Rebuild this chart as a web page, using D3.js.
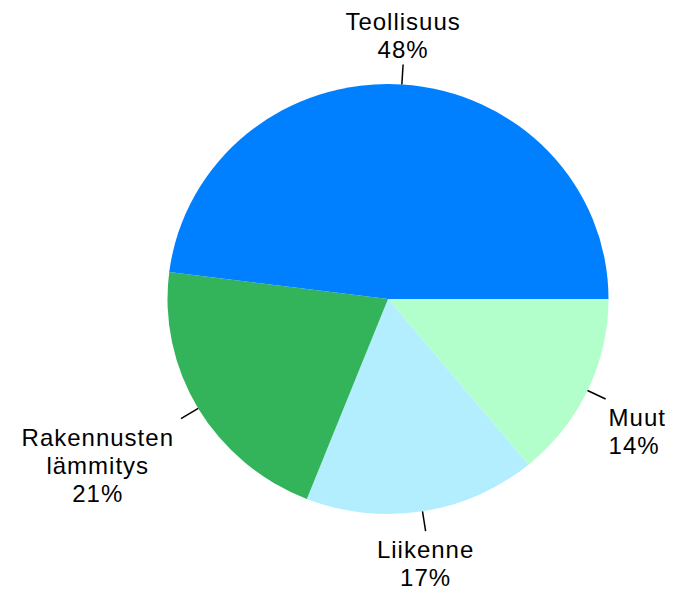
<!DOCTYPE html>
<html>
<head>
<meta charset="utf-8">
<script src="https://cdn.jsdelivr.net/npm/d3@7"></script>
<style>
  body { margin: 0; background: #fff; }
  svg text { font-family: "Liberation Sans", Arial, sans-serif; font-size: 24px; fill: #000; letter-spacing: 1px; }
</style>
</head>
<body>
<div id="main"></div>
<script>
const WIDTH = 689;
const HEIGHT = 609;
const CX = 388;
const CY = 299;
const RADIUS = 220.5;
const Y_SCALE = 0.975; // source picture is slightly squashed

// data, clockwise from 3 o'clock
const categories = ['Muut', 'Liikenne', 'Rakennusten\nlämmitys', 'Teollisuus'];
const shares = [14, 17, 21, 48];
const colors = ['#B3FFCC', '#B3EEFF', '#33B35A', '#0080FF'];

const svg = d3.select('#main')
  .append('svg')
  .attr('width', WIDTH)
  .attr('height', HEIGHT)
  .attr('viewBox', [0, 0, WIDTH, HEIGHT]);

const data = categories.map((c, i) => ({ name: c, value: shares[i], color: colors[i] }));

const pie = d3.pie()
  .sort(null)
  .value(d => d.value)
  .startAngle(Math.PI / 2)
  .endAngle(Math.PI / 2 + 2 * Math.PI);

const arc = d3.arc().innerRadius(0).outerRadius(RADIUS);
const arcs = pie(data);

svg.append('g')
  .attr('transform', `translate(${CX},${CY}) scale(1,${Y_SCALE})`)
  .selectAll('path')
  .data(arcs)
  .join('path')
  .attr('d', arc)
  .attr('fill', d => d.data.color);

// leader lines + labels
const TICK = 20;
const LINE_H = 28;
const CAP = 18;

arcs.forEach(a => {
  const mid = (a.startAngle + a.endAngle) / 2;
  const dx = Math.sin(mid);
  const dy = -Math.cos(mid);
  const x0 = CX + RADIUS * dx;
  const y0 = CY + RADIUS * Y_SCALE * dy;
  const x1 = x0 + TICK * dx;
  const y1 = y0 + TICK * dy;

  svg.append('line')
    .attr('x1', x0).attr('y1', y0)
    .attr('x2', x1).attr('y2', y1)
    .attr('stroke', '#000')
    .attr('stroke-width', 1.5);

  const lines = a.data.name.split('\n').concat([a.data.value + '%']);
  let anchor = 'middle';
  let tx = x1;
  if (dx > 0.3) { anchor = 'start'; tx = x1 + 3; }
  else if (dx < -0.3) { anchor = 'end'; tx = x1 - 7; }

  let firstBase;
  if (dy > 0) firstBase = y1 + 9 + CAP;
  else firstBase = y1 - 6 - (lines.length - 1) * LINE_H;

  const txt = svg.append('text')
    .attr('text-anchor', anchor);
  lines.forEach((l, i) => {
    txt.append('tspan')
      .attr('x', anchor === 'end' ? tx - (i === 0 ? 0 : 0) : tx)
      .attr('y', firstBase + i * LINE_H)
      .text(l);
  });

  // multi-line labels on the left are centred on their widest line
  if (anchor === 'end' && lines.length > 1) {
    const w = txt.node().getBBox().width;
    txt.attr('text-anchor', 'middle')
      .selectAll('tspan').attr('x', tx - w / 2);
  }
});
</script>
</body>
</html>
